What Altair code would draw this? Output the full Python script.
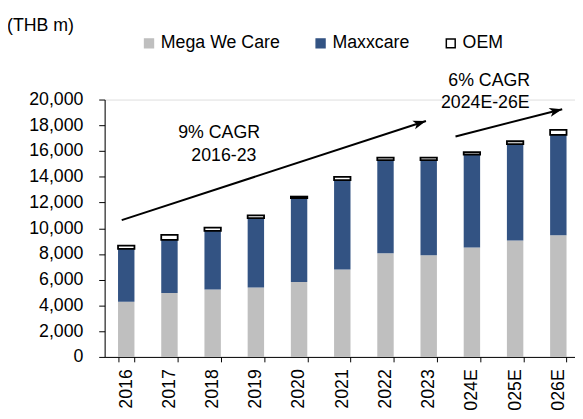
import math
import altair as alt
import pandas as pd

# ---------------- data ----------------
years = ["2016", "2017", "2018", "2019", "2020", "2021", "2022", "2023",
         "2024E", "2025E", "2026E"]
series = ["Mega We Care", "Maxxcare", "OEM"]
mega = [4280, 4960, 5240, 5400, 5820, 6800, 8050, 7900, 8500, 9050, 9450]
maxx = [4110, 4140, 4550, 5380, 6520, 6940, 7250, 7400, 7230, 7490, 7810]
oem = [250, 380, 250, 220, 120, 245, 190, 190, 190, 220, 375]
y_ticks = [0, 2000, 4000, 6000, 8000, 10000, 12000, 14000, 16000, 18000, 20000]

# annotation text (x in category-index units, y in THB m)
ann_text = ["9% CAGR", "2016-23", "6% CAGR", "2024E-26E"]
ann_x = [2.65, 2.76, 8.90, 8.81]
ann_y = [17400, 15600, 21400, 19700]

# arrows: start and tip (category-index units, THB m)
arr_x0 = [0.395, 8.12]
arr_y0 = [10630, 17130]
arr_x1 = [7.436, 10.59]
arr_y1 = [18330, 19250]

# ---------------- styling ----------------
FONT = "Liberation Sans"
GRAY = "#BFBFBF"
BLUE = "#335383"
X_RANGE = 482        # px spanned by the 11 categories
PLOT_W = 477
PLOT_H = 261
Y_MAX = 20000

rows = []
for i, yr in enumerate(years):
    for k, (s, v) in enumerate(zip(series, [mega[i], maxx[i], oem[i]])):
        rows.append({"year": yr, "series": s, "value": v, "order": k})
df = pd.DataFrame(rows)

px_x = X_RANGE / len(years)
px_y = PLOT_H / Y_MAX
angles = []
for a, b, c, d in zip(arr_x0, arr_y0, arr_x1, arr_y1):
    dx = (c - a) * px_x
    dy = (d - b) * px_y
    angles.append(360 - math.degrees(math.atan2(dy, dx)))
arr_df = pd.DataFrame({"x0": arr_x0, "y0": arr_y0, "x1": arr_x1, "y1": arr_y1,
                       "ang": angles})
ann_df = pd.DataFrame({"text": ann_text, "xi": ann_x, "yv": ann_y})

y_scale = alt.Scale(domain=[0, Y_MAX], nice=False, zero=True)
xi_scale = alt.Scale(domain=[0, len(years)], range=[0, X_RANGE], nice=False, zero=False)
y_axis = alt.Axis(title=None, values=y_ticks, format=",.0f", grid=False,
                  labelFont=FONT, labelFontSize=18, labelColor="black",
                  labelPadding=16, tickSize=6, tickColor="black",
                  domainColor="black")

legend = alt.Legend(
    title=None, orient="none", legendX=36, legendY=-66, direction="horizontal",
    symbolType="square", symbolSize=81, symbolStrokeWidth=1.5,
    labelFont=FONT, labelFontSize=18, labelColor="black", labelOffset=3,
    columnPadding=32, padding=0, labelLimit=300,
)

bars = alt.Chart(df).mark_bar().encode(
    x=alt.X("year:N", sort=years,
            scale=alt.Scale(domain=years, range=[0, X_RANGE],
                            paddingInner=0.62, paddingOuter=0.31),
            axis=alt.Axis(title=None, labelAngle=-90, tickBand="extent",
                          labelFont=FONT, labelFontSize=18, labelColor="black",
                          labelPadding=7, tickSize=5, tickColor="black",
                          domainColor="black", labelLimit=300)),
    y=alt.Y("value:Q", stack="zero", scale=y_scale, axis=y_axis),
    color=alt.Color("series:N", scale=alt.Scale(domain=series,
                                                range=[GRAY, BLUE, "#FFFFFF"]),
                    legend=legend),
    stroke=alt.Stroke("series:N", scale=alt.Scale(domain=series,
                                                  range=[GRAY, BLUE, "#000000"]),
                      legend=legend),
    strokeWidth=alt.condition(alt.datum.series == "OEM", alt.value(1.8), alt.value(0)),
    order=alt.Order("order:Q"),
)

lines = alt.Chart(arr_df).mark_rule(color="black", strokeWidth=2).encode(
    x=alt.X("x0:Q", scale=xi_scale, axis=None),
    x2="x1:Q",
    y=alt.Y("y0:Q", scale=y_scale, axis=y_axis),
    y2="y1:Q",
)

heads = alt.Chart(arr_df).mark_point(
    shape="M0,0 L-2,-0.7 L-1.5,0 L-2,0.7 Z", filled=True, color="black",
    opacity=1, size=169, strokeWidth=0,
).encode(
    x=alt.X("x1:Q", scale=xi_scale, axis=None),
    y=alt.Y("y1:Q", scale=y_scale, axis=y_axis),
    angle=alt.Angle("ang:Q", scale=None),
)

texts = alt.Chart(ann_df).mark_text(
    font=FONT, fontSize=18, color="black", align="center", baseline="middle"
).encode(
    x=alt.X("xi:Q", scale=xi_scale, axis=None),
    y=alt.Y("yv:Q", scale=y_scale, axis=y_axis),
    text="text:N",
)

unit = alt.Chart(pd.DataFrame({"t": ["(THB m)"]})).mark_text(
    font=FONT, fontSize=18, color="black", align="left", baseline="middle"
).encode(x=alt.value(-99), y=alt.value(-75), text="t:N")

chart = alt.layer(bars, lines, heads, texts, unit).resolve_scale(
    x="independent"
).properties(
    width=PLOT_W, height=PLOT_H,
    autosize=alt.AutoSizeParams(type="none"),
    padding={"left": 98, "top": 90, "right": 0, "bottom": 52},
).configure_view(stroke=None).configure(font=FONT)

chart.save("out.html", embed_options={"renderer": "svg", "actions": False})
